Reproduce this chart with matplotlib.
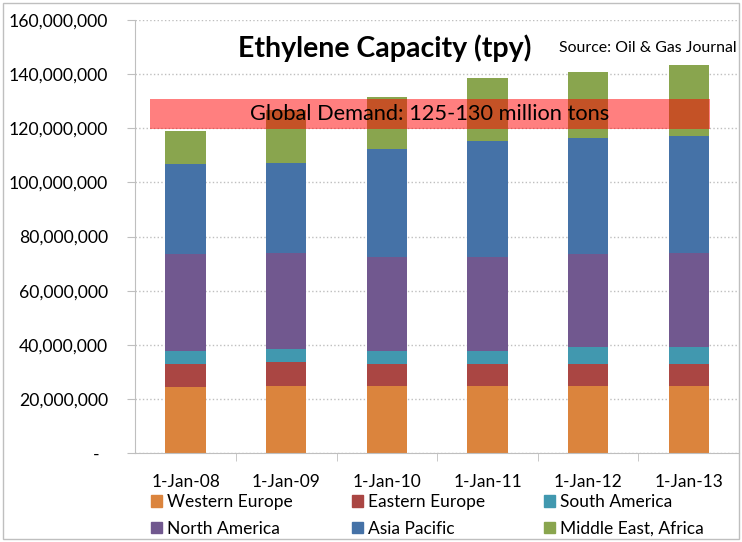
import numpy as np
import matplotlib
matplotlib.use('Agg')
import matplotlib.pyplot as plt
from matplotlib.patches import Patch, Rectangle
from matplotlib.ticker import FuncFormatter

plt.rcParams['font.family'] = ['Lato', 'DejaVu Sans']

# data (tons per year)
dates = ['1-Jan-08', '1-Jan-09', '1-Jan-10', '1-Jan-11', '1-Jan-12', '1-Jan-13']
western_europe = [24.3e6, 24.9e6, 24.9e6, 24.9e6, 24.9e6, 24.9e6]
eastern_europe = [8.5e6, 8.6e6, 7.9e6, 7.9e6, 7.9e6, 7.9e6]
south_america = [5.0e6, 4.9e6, 5.0e6, 5.0e6, 6.4e6, 6.4e6]
north_america = [35.7e6, 35.6e6, 34.5e6, 34.5e6, 34.3e6, 34.8e6]
asia_pacific = [33.2e6, 33.3e6, 40.0e6, 43.0e6, 42.8e6, 43.3e6]
middle_east_africa = [12.3e6, 19.5e6, 19.4e6, 23.2e6, 24.5e6, 26.1e6]

series = [
    ('Western Europe', western_europe, '#DB843D'),
    ('Eastern Europe', eastern_europe, '#AA4643'),
    ('South America', south_america, '#4198AF'),
    ('North America', north_america, '#71588F'),
    ('Asia Pacific', asia_pacific, '#4572A7'),
    ('Middle East, Africa', middle_east_africa, '#89A54E'),
]

band_low, band_high = 119.7e6, 130.8e6
band_text = 'Global Demand: 125-130 million tons'

# figure
fig = plt.figure(figsize=(7.42, 5.42), dpi=100)
ax = fig.add_axes([135.3 / 742, 89 / 542, 603.8 / 742, 433 / 542])

x = np.arange(len(dates))
bottom = np.zeros(len(dates))
for name, vals, col in series:
    ax.bar(x, vals, width=0.4, bottom=bottom, color=col, label=name, zorder=2)
    bottom += np.array(vals)

# demand band
ax.fill_between([-0.354, 5.21], band_low, band_high, color='red', alpha=0.5,
                linewidth=0, zorder=3)
ax.text(2.424, (band_low + band_high) / 2, band_text, ha='center', va='center',
        fontsize=15.7, color='black', zorder=4)

# y axis
ax.set_ylim(0, 160e6)
ax.set_yticks(np.arange(0, 160e6 + 1, 20e6))
ax.yaxis.set_major_formatter(FuncFormatter(lambda v, p: '-  ' if v == 0 else '{:,.0f}'.format(v)))
ax.tick_params(axis='y', length=6, color='#bfbfbf', pad=13.5, labelsize=12.7)
ax.grid(axis='y', color='#bfbfbf', linestyle=':', linewidth=1, zorder=0)
ax.set_axisbelow(True)

# x axis
ax.set_xlim(-0.5, 5.5)
ax.set_xticks(x)
ax.set_xticklabels(dates)
ax.set_xticks(np.arange(0.5, 5.0, 1.0), minor=True)
ax.tick_params(axis='x', which='major', length=0, pad=15, labelsize=12.5)
ax.tick_params(axis='x', which='minor', length=6, color='#bfbfbf')

for s in ['top', 'right']:
    ax.spines[s].set_visible(False)
for s in ['left', 'bottom']:
    ax.spines[s].set_color('#bfbfbf')

# legend, filled row by row like Excel
h = [Patch(color=c) for _, _, c in series]
lab = [n for n, _, _ in series]
order = [0, 3, 1, 4, 2, 5]
fig.legend([h[i] for i in order], [lab[i] for i in order], ncol=3,
           loc='upper left', bbox_to_anchor=(151 / 742, 1 - 494 / 542),
           frameon=False, fontsize=12.5, handlelength=0.63, handleheight=0.63,
           handletextpad=0.3, columnspacing=3.4, labelspacing=0.62, borderpad=0,
           borderaxespad=0)

# titles
fig.text(385 / 742, 1 - 48 / 542, 'Ethylene Capacity (tpy)', ha='center', va='center',
         fontsize=20.5, fontweight='bold')
fig.text(648 / 742, 1 - 48 / 542, 'Source: Oil & Gas Journal', ha='center', va='center',
         fontsize=11.4)

# outer frame
fig.patches.append(Rectangle((3 / 742, 3 / 542), 736 / 742, 536 / 542, transform=fig.transFigure,
                             fill=False, edgecolor='#bfbfbf', linewidth=1))

plt.savefig('out.png', dpi=100)
